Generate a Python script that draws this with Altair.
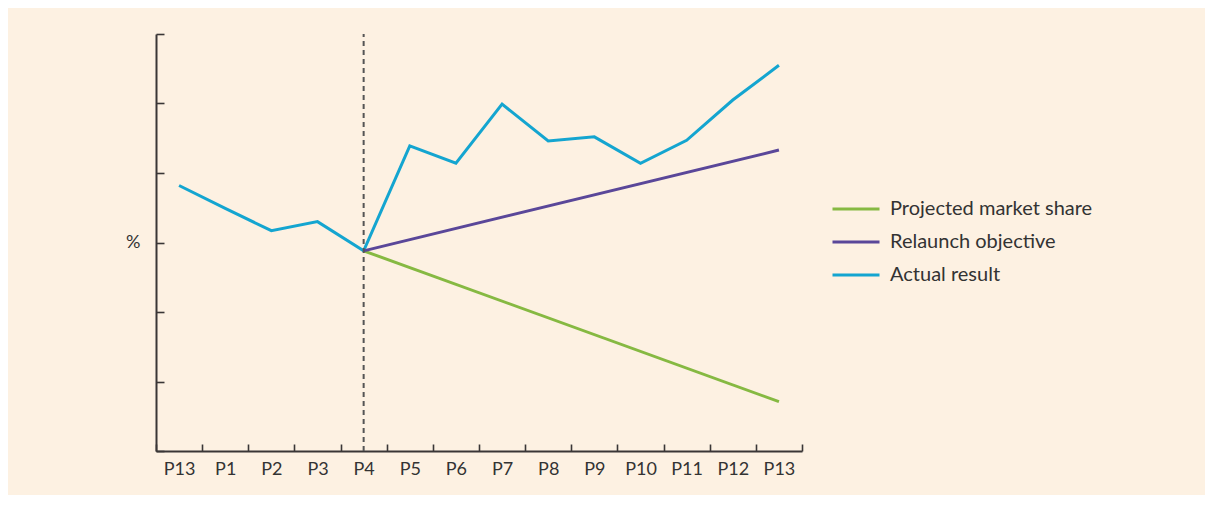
import altair as alt
import pandas as pd

# ---- data ----
periods = ["P13", "P1", "P2", "P3", "P4", "P5", "P6", "P7", "P8", "P9", "P10", "P11", "P12", "P13"]
actual_result = [3.82, 3.49, 3.17, 3.30, 2.88, 4.39, 4.14, 4.99, 4.46, 4.52, 4.14, 4.47, 5.05, 5.55]
relaunch_periods = [4, 13]
relaunch_objective = [2.88, 4.33]
projected_periods = [4, 13]
projected_share = [2.88, 0.71]
divider_period = 4
y_ticks = [0, 1, 2, 3, 4, 5, 6]
y_label_at = 3
series_names = ["Projected market share", "Relaunch objective", "Actual result"]
series_colors = ["#86b942", "#5a4799", "#14a5d0"]

W, H = 646, 417
FONT = "Lato"
TEXT = "#333333"
AXIS_COL = "#3a3636"

rows = []
for i, v in enumerate(actual_result):
    rows.append({"series": "Actual result", "pos": i + 0.5, "value": v, "order": i})
for i, v in zip(projected_periods, projected_share):
    rows.append({"series": "Projected market share", "pos": i + 0.5, "value": v, "order": i})
for i, v in zip(relaunch_periods, relaunch_objective):
    rows.append({"series": "Relaunch objective", "pos": i + 0.5, "value": v, "order": i})
df = pd.DataFrame(rows)

rule_df = pd.DataFrame({"pos": [divider_period + 0.5], "ymin": [min(y_ticks)], "ymax": [max(y_ticks)]})

x_scale = alt.Scale(domain=[0, len(periods)], nice=False, zero=False)
y_scale = alt.Scale(domain=[min(y_ticks), max(y_ticks)], nice=False, zero=False)

label_array = "[" + ",".join("'" + p + "'" for p in periods) + "]"

lines = alt.Chart(df).mark_line(strokeWidth=3).encode(
    x=alt.X("pos:Q", scale=x_scale,
            axis=alt.Axis(orient="bottom", values=[i + 0.5 for i in range(len(periods))],
                          labelExpr=label_array + "[floor(datum.value)]",
                          domain=False, ticks=False, tickSize=0, grid=False, title=None,
                          labelPadding=9, labelFontSize=18, labelFont=FONT, labelColor=TEXT,
                          labelOverlap=False)),
    y=alt.Y("value:Q", scale=y_scale,
            axis=alt.Axis(orient="left", values=y_ticks,
                          labelExpr="datum.value == %d ? '%%' : ''" % y_label_at,
                          domain=False, ticks=False, tickSize=0, grid=False, title=None,
                          labelPadding=16, labelFontSize=18, labelFont=FONT, labelColor=TEXT)),
    color=alt.Color("series:N", scale=alt.Scale(domain=series_names, range=series_colors),
                    legend=alt.Legend(title=None, orient="none", legendX=675, legendY=165,
                                      symbolType="stroke", symbolSize=2209, symbolStrokeWidth=3,
                                      labelFontSize=20, labelFont=FONT, labelColor=TEXT,
                                      labelLimit=400, clipHeight=20,
                                      labelOffset=9, rowPadding=13, padding=0)),
    order="order:Q",
)

divider = alt.Chart(rule_df).mark_rule(strokeDash=[5, 4], strokeWidth=2, color="#555555").encode(
    x=alt.X("pos:Q", scale=x_scale,
            axis=alt.Axis(orient="top", offset=-H, values=list(range(len(periods) + 1)),
                          labels=False, grid=False, title=None, domain=True, ticks=True,
                          tickSize=7, tickWidth=1.6, tickColor=AXIS_COL,
                          domainWidth=2, domainColor=AXIS_COL)),
    y=alt.Y("ymin:Q", scale=y_scale,
            axis=alt.Axis(orient="right", offset=-W, values=y_ticks,
                          labels=False, grid=False, title=None, domain=True, ticks=True,
                          tickSize=8, tickWidth=1.6, tickColor=AXIS_COL,
                          domainWidth=2, domainColor=AXIS_COL)),
    y2="ymax:Q",
)

chart = alt.layer(lines, divider).resolve_axis(x="independent", y="independent").properties(
    width=W, height=H,
    background="#fdf1e2",
    autosize=alt.AutoSizeParams(type="none"),
    padding={"left": 148, "top": 26, "right": 403, "bottom": 44},
).configure_view(stroke=None)

chart.save("out.html", embed_options={"renderer": "svg", "actions": False})
